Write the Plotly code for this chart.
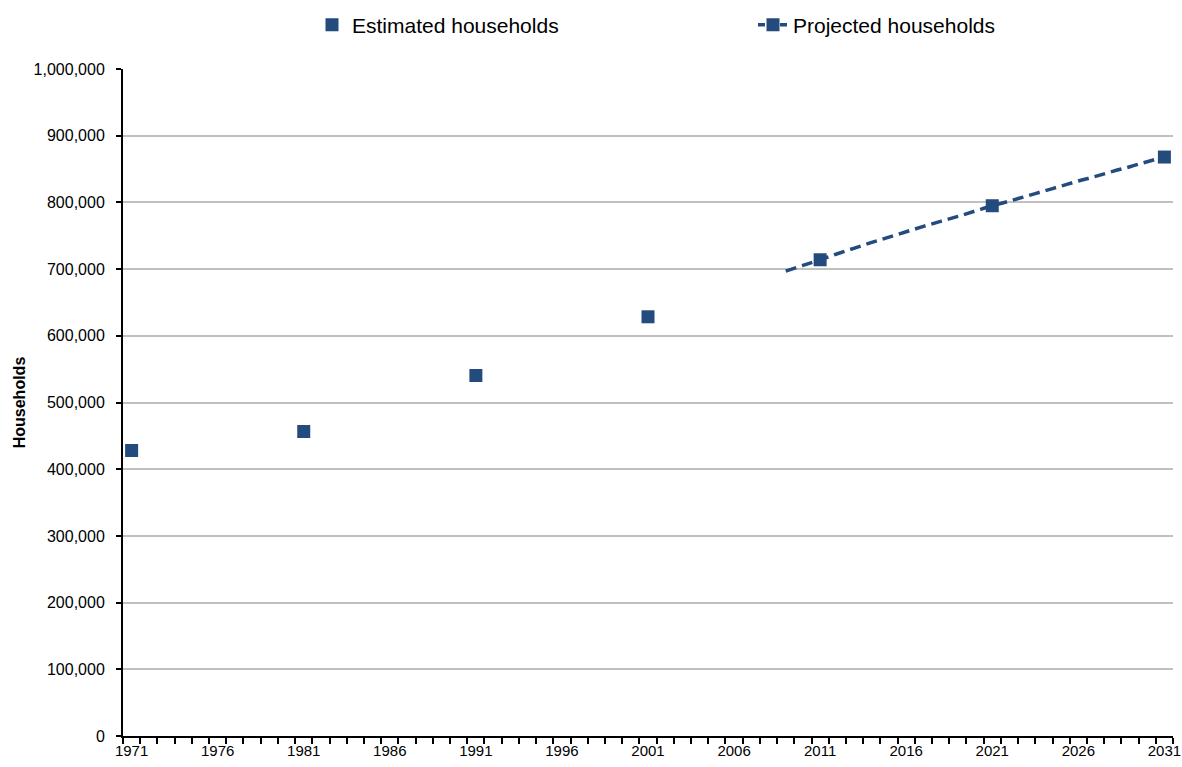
import plotly.graph_objects as go

# ---- data ----
estimated_years = [1971, 1981, 1991, 2001]
estimated_values = [428000, 456500, 540500, 628500]

projected_years = list(range(2009, 2032))
projected_values = [697000, 705500, 714000, 723000, 731500, 740000, 748000, 756000,
                    764000, 771500, 779000, 787000, 795000, 802000, 809500, 817000,
                    824500, 832000, 839000, 846500, 853500, 861000, 868000]
projected_marker_years = [2011, 2021, 2031]

tick_years = list(range(1971, 2032, 5))
y_ticks = list(range(0, 1000001, 100000))

BLUE = "#234B7D"
FONT = "Liberation Sans, Arial, sans-serif"

marker_vals = [v for yr, v in zip(projected_years, projected_values) if yr in projected_marker_years]

fig = go.Figure()

fig.add_trace(go.Scatter(
    x=estimated_years, y=estimated_values, mode="markers",
    name="Estimated households",
    marker=dict(symbol="square", size=13, color=BLUE),
    legend="legend",
))

fig.add_trace(go.Scatter(
    x=projected_years, y=projected_values, mode="lines",
    line=dict(color=BLUE, width=3.5, dash="11px,6px", shape="spline"),
    showlegend=False, hoverinfo="skip",
))

fig.add_trace(go.Scatter(
    x=projected_marker_years, y=marker_vals, mode="markers",
    marker=dict(symbol="square", size=13, color=BLUE),
    showlegend=False,
))

# legend entry for projected (line + marker)
fig.add_trace(go.Scatter(
    x=[None], y=[None], mode="lines+markers",
    name="Projected households",
    line=dict(color=BLUE, width=3.5, dash="7px,4px"),
    marker=dict(symbol="square", size=13, color=BLUE),
    legend="legend2",
))

fig.update_layout(
    width=1182, height=767,
    margin=dict(l=123, r=9, t=69, b=31, autoexpand=False),
    paper_bgcolor="white", plot_bgcolor="white",
    font=dict(family=FONT, size=16, color="black"),
    legend=dict(x=0.180, y=1.066, xanchor="left", yanchor="middle",
                orientation="h", font=dict(size=21), bgcolor="rgba(0,0,0,0)"),
    legend2=dict(x=0.600, y=1.066, xanchor="left", yanchor="middle",
                 orientation="h", font=dict(size=21), bgcolor="rgba(0,0,0,0)"),
    xaxis=dict(
        range=[1970.5, 2031.5], automargin=False,
        tickmode="array", tickvals=tick_years,
        ticktext=[str(t) for t in tick_years],
        ticks="", ticklen=0,
        ticklabeloverflow="allow",
        showgrid=False, zeroline=False,
        showline=True, linecolor="black", linewidth=2,
        tickfont=dict(size=15),
        minor=dict(tick0=1970.5, dtick=1, ticks="outside", ticklen=6,
                   tickwidth=2, tickcolor="black", showgrid=False),
    ),
    yaxis=dict(
        range=[0, 1000000], automargin=False,
        tickmode="array", tickvals=y_ticks,
        ticktext=[f"{v:,}" for v in y_ticks],
        ticks="outside", ticklen=5, tickwidth=2, tickcolor="black",
        ticklabelstandoff=8,
        showgrid=True, gridcolor="#C0C0C0", gridwidth=2,
        zeroline=False,
        showline=True, linecolor="black", linewidth=2,
        tickfont=dict(size=16),
        title=dict(text="<b>Households</b>", font=dict(size=16), standoff=4),
    ),
)

fig.write_html(
    "out.html",
    config={"displayModeBar": False},
    post_script="document.body.style.margin='0';document.body.style.overflow='hidden';",
)
